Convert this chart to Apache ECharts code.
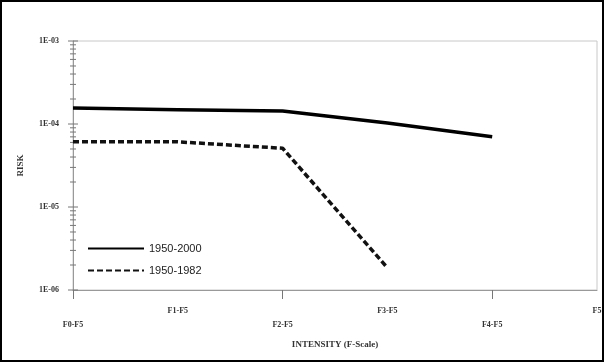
<!DOCTYPE html>
<html><head><meta charset="utf-8">
<script src="https://cdn.jsdelivr.net/npm/echarts@6/dist/echarts.min.js"></script>
<style>html,body{margin:0;padding:0;background:#fff}#c{width:605px;height:363px}</style>
</head><body><div id="c"></div>
<script>
const categories = ['F0-F5','F1-F5','F2-F5','F3-F5','F4-F5','F5'];
const series2000 = [1.56e-4, 1.49e-4, 1.43e-4, 1.03e-4, 7.0e-5, null];
const series1982 = [6.1e-5, 6.1e-5, 5.1e-5, 1.85e-6, null, null];
const seriesNames = ['1950-2000', '1950-1982'];
const yMajorTicks = [1e-6, 1e-5, 1e-4, 1e-3];
const yMinorTicks = [2e-6,3e-6,4e-6,5e-6,6e-6,7e-6,8e-6,9e-6,
                     2e-5,3e-5,4e-5,5e-5,6e-5,7e-5,8e-5,9e-5,
                     2e-4,3e-4,4e-4,5e-4,6e-4,7e-4,8e-4,9e-4];

const chart = echarts.init(document.getElementById('c'), null, {renderer:'canvas'});
const tickData = yMajorTicks.map(v => [0, v, 1]).concat(yMinorTicks.map(v => [0, v, 0]));

chart.setOption({
  animation: false,
  backgroundColor: '#fff',
  graphic: [{
    type: 'rect', shape: {x: 1, y: 1, width: 602, height: 360},
    style: {fill: 'none', stroke: '#000', lineWidth: 2}, z: 100
  }],
  grid: {left: 73, right: 8, top: 41, bottom: 73, show: true, borderColor: '#c8c8c8', borderWidth: 1},
  legend: {
    data: seriesNames, orient: 'vertical', left: 82, top: 238,
    itemWidth: 56, itemHeight: 10, itemGap: 11,
    itemStyle: {opacity: 0},
    textStyle: {fontFamily: 'Liberation Sans, Arial', fontSize: 11, color: '#222'}
  },
  xAxis: {
    type: 'category', data: categories, boundaryGap: false,
    axisLine: {lineStyle: {color: '#999', width: 1}},
    axisTick: {show: true, length: 9, lineStyle: {color: '#777'},
      interval: function(i){ return i % 2 === 0; }},
    axisLabel: {interval: 0, margin: 14, fontFamily: 'Liberation Serif', fontWeight: 'bold', fontSize: 8, color: '#333',
      lineHeight: 14,
      formatter: function(v, i){ return i % 2 === 0 ? '\n' + v : v; }},
    splitLine: {show: false},
    name: 'INTENSITY (F-Scale)', nameLocation: 'middle', nameGap: 50,
    nameTextStyle: {fontFamily: 'Liberation Serif', fontWeight: 'bold', fontSize: 9, color: '#333'}
  },
  yAxis: {
    type: 'log', min: 1e-6, max: 1e-3, logBase: 10,
    axisLine: {show: true, lineStyle: {color: '#999', width: 1}},
    axisTick: {show: false},
    splitLine: {show: false},
    axisLabel: {margin: 14, fontFamily: 'Liberation Serif', fontWeight: 'bold', fontSize: 8, color: '#333',
      formatter: function(v){ const e = Math.round(Math.log10(v)); return '1E-' + String(-e).padStart(2,'0'); }},
    name: 'RISK', nameLocation: 'middle', nameGap: 48, nameRotate: 90,
    nameTextStyle: {fontFamily: 'Liberation Serif', fontWeight: 'bold', fontSize: 9, color: '#333'}
  },
  series: [
    {name: seriesNames[0], type: 'line', data: series2000, symbol: 'none', connectNulls: false,
      lineStyle: {color: '#000', width: 3.5, type: 'solid'}, itemStyle: {color: '#000'}, z: 5},
    {name: seriesNames[1], type: 'line', data: series1982, symbol: 'none', connectNulls: false,
      lineStyle: {color: '#111', width: 3.5, type: [6, 3]}, itemStyle: {color: '#111'}, z: 5},
    {type: 'custom', data: tickData, clip: false, silent: true, z: 3,
      renderItem: function(params, api){
        const p = api.coord([0, api.value(1)]);
        const major = api.value(2) === 1;
        const h = major ? 5 : 3;
        return {type: 'line', shape: {x1: p[0] - h, y1: p[1], x2: p[0] + h, y2: p[1]},
          style: {stroke: '#777', lineWidth: 1}};
      }}
  ]
});
</script></body></html>
